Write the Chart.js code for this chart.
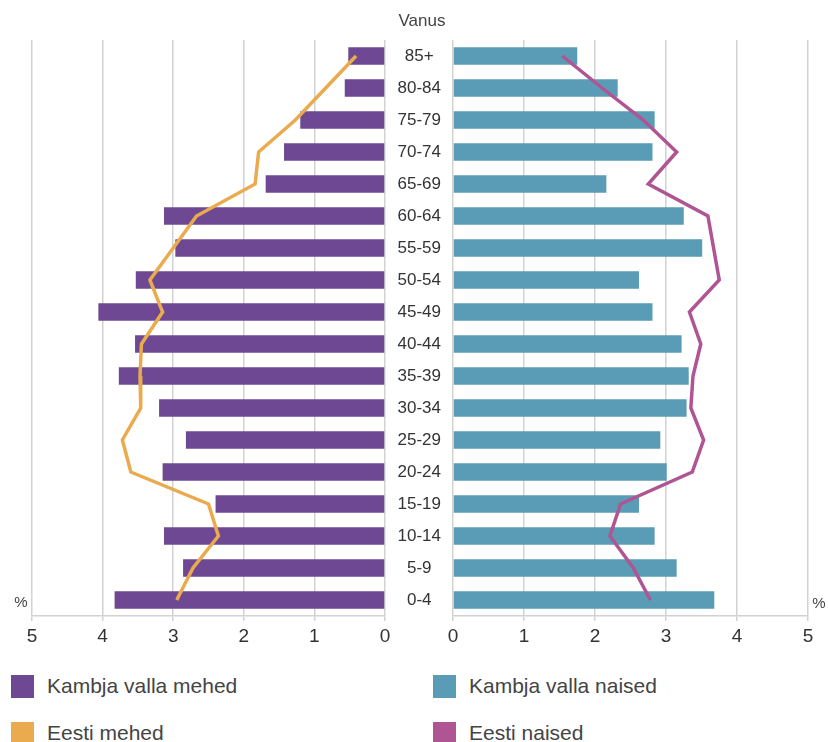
<!DOCTYPE html>
<html>
<head>
<meta charset="utf-8">
<script src="https://cdn.jsdelivr.net/npm/chart.js@4.4.1/dist/chart.umd.min.js"></script>
<style>
  html, body { margin:0; padding:0; background:#fff; }
  body { width:828px; height:742px; position:relative; overflow:hidden; font-family:"Liberation Sans", Arial, sans-serif; color:#444; }
  canvas { position:absolute; top:0; }
  .txt { position:absolute; white-space:nowrap; }
  .leg { position:absolute; height:24px; line-height:24px; font-size:21px; color:#444; white-space:nowrap; }
  .leg span.box { position:absolute; left:0; top:0; width:23px; height:23px; }
  .leg span.lab { position:absolute; left:36px; top:-1px; }
</style>
</head>
<body>
<canvas id="left" width="420" height="660" style="left:0"></canvas>
<canvas id="right" width="448" height="660" style="left:380px"></canvas>
<div class="txt" style="left:372px;width:100px;text-align:center;top:10px;font-size:17px;line-height:22px;">Vanus</div>
<div class="txt" style="left:11px;width:20px;text-align:center;top:593px;font-size:15px;line-height:18px;">%</div>
<div class="txt" style="left:809px;width:20px;text-align:center;top:594px;font-size:15px;line-height:18px;">%</div>
<div id="legend"></div>
<script>
// ---- data ----
const ages = ['85+','80-84','75-79','70-74','65-69','60-64','55-59','50-54','45-49','40-44','35-39','30-34','25-29','20-24','15-19','10-14','5-9','0-4'];
const kambjaMehed  = [0.52,0.57,1.20,1.43,1.69,3.13,2.97,3.53,4.06,3.54,3.77,3.20,2.82,3.15,2.40,3.13,2.86,3.83];
const eestiMehed   = [0.41,0.84,1.27,1.79,1.84,2.67,3.00,3.33,3.15,3.45,3.47,3.46,3.72,3.60,2.50,2.36,2.72,2.95];
const kambjaNaised = [1.75,2.32,2.84,2.81,2.16,3.25,3.51,2.62,2.81,3.22,3.32,3.29,2.92,3.01,2.62,2.84,3.15,3.68];
const eestiNaised  = [1.54,2.10,2.68,3.15,2.75,3.59,3.67,3.75,3.33,3.49,3.38,3.35,3.53,3.37,2.36,2.21,2.54,2.78];
const xTicks = [0,1,2,3,4,5];

const purple = '#6e4892';
const teal = '#5a9bb6';
const orange = '#e9ab4e';
const pink = '#b05594';
const gridCol = '#d2d2d2';

function xScale(reverse) {
  return {
    type:'linear', reverse, min:0, max:5,
    afterBuildTicks(s){ s.ticks = xTicks.map(v => ({value:v})); },
    ticks:{ color:'#333', font:{size:19, family:'"Liberation Sans", Arial, sans-serif'}, padding:4 },
    grid:{ color:gridCol, lineWidth:1.5, tickLength:5 },
    border:{ color:gridCol, width:1.5 },
    afterFit(s){ s.height = 44; }
  };
}

new Chart(document.getElementById('left'), {
  type:'bar',
  data:{ labels:ages, datasets:[
    { type:'line', label:'Eesti mehed', data:eestiMehed, borderColor:orange, backgroundColor:orange, borderWidth:3.5, pointRadius:0, tension:0, order:0, indexAxis:'y' },
    { type:'bar', label:'Kambja valla mehed', data:kambjaMehed, backgroundColor:purple, barPercentage:0.55, categoryPercentage:1, order:1, indexAxis:'y' }
  ]},
  options:{
    indexAxis:'y', responsive:false, animation:false,
    layout:{ padding:{ left:32, right:35, top:40, bottom:0 } },
    plugins:{ legend:{display:false}, tooltip:{enabled:false} },
    scales:{ x:xScale(true), y:{ display:false } }
  }
});

new Chart(document.getElementById('right'), {
  type:'bar',
  data:{ labels:ages, datasets:[
    { type:'line', label:'Eesti naised', data:eestiNaised, borderColor:pink, backgroundColor:pink, borderWidth:3.5, pointRadius:0, tension:0, order:0, indexAxis:'y' },
    { type:'bar', label:'Kambja valla naised', data:kambjaNaised, backgroundColor:teal, barPercentage:0.55, categoryPercentage:1, order:1, indexAxis:'y' }
  ]},
  options:{
    indexAxis:'y', responsive:false, animation:false,
    layout:{ padding:{ left:0, right:20, top:40, bottom:0 } },
    plugins:{ legend:{display:false}, tooltip:{enabled:false} },
    scales:{
      x:xScale(false),
      y:{ position:'left', grid:{display:false, drawTicks:false}, border:{display:false},
          ticks:{ crossAlign:'center', padding:12, color:'#333', font:{size:17, family:'"Liberation Sans", Arial, sans-serif'} },
          afterFit(s){ s.width = 73; } }
    }
  }
});

// legend
const legendItems = [
  { label:'Kambja valla mehed', color:purple, x:11, y:675 },
  { label:'Kambja valla naised', color:teal, x:433, y:675 },
  { label:'Eesti mehed', color:orange, x:11, y:722 },
  { label:'Eesti naised', color:pink, x:433, y:722 }
];
const lg = document.getElementById('legend');
legendItems.forEach(it => {
  const d = document.createElement('div');
  d.className = 'leg';
  d.style.left = it.x + 'px';
  d.style.top = it.y + 'px';
  d.innerHTML = '<span class="box" style="background:' + it.color + '"></span><span class="lab">' + it.label + '</span>';
  lg.appendChild(d);
});
</script>
</body>
</html>
